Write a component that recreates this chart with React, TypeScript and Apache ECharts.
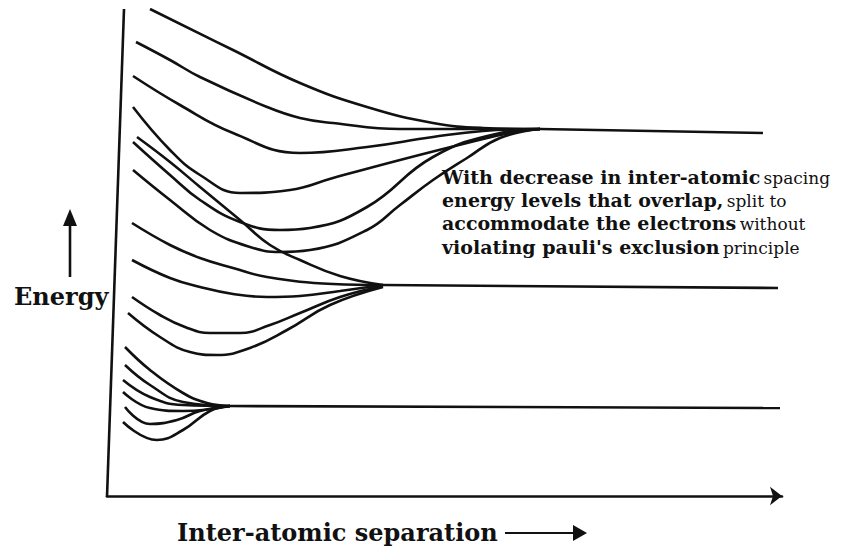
import React, { useEffect, useRef } from "react";
import * as echarts from "echarts";

// Each curve: [inter-atomic separation, energy]
const upperBand1 = [[50, 491], [133, 450], [200, 417], [267, 393], [333, 377], [383, 372], [440, 371]];
const upperBand2 = [[36, 458], [70, 440], [100, 423], [167, 393], [200, 382], [233, 377], [300, 371], [383, 371], [440, 371]];
const upperBand3 = [[33, 424], [80, 395], [133, 367], [200, 347], [267, 353], [333, 363], [383, 369], [440, 371]];
const upperBand4 = [[33, 393], [70, 350], [100, 325], [140, 307], [190, 310], [233, 322], [300, 340], [367, 357], [410, 367], [440, 371]];
const upperBand5 = [[33, 358], [70, 325], [100, 300], [140, 278], [180, 270], [210, 272], [267, 293], [333, 343], [400, 367], [440, 371]];
const upperBand6 = [[33, 330], [70, 300], [110, 270], [150, 253], [180, 248], [210, 250], [267, 270], [300, 295], [333, 320], [367, 342], [400, 362], [440, 371]];

const middleBand1 = [[37, 363], [70, 338], [100, 313], [140, 280], [170, 255], [200, 240], [240, 224], [283, 215]];
const middleBand2 = [[32, 277], [70, 255], [100, 242], [133, 232], [167, 223], [233, 216], [283, 215]];
const middleBand3 = [[32, 240], [70, 222], [100, 213], [133, 206], [167, 203], [200, 204], [240, 209], [283, 215]];
const middleBand4 = [[32, 203], [60, 185], [85, 173], [110, 167], [140, 167], [170, 175], [200, 187], [240, 203], [283, 214]];
const middleBand5 = [[28, 187], [60, 163], [90, 148], [117, 145], [150, 152], [187, 170], [230, 195], [283, 213]];

const lowerBand1 = [[25, 153], [50, 130], [83, 107], [107, 97], [130, 94]];
const lowerBand2 = [[25, 135], [50, 115], [83, 98], [130, 94]];
const lowerBand3 = [[23, 120], [50, 103], [83, 95], [130, 94]];
const lowerBand4 = [[23, 108], [50, 92], [83, 89], [130, 94]];
const lowerBand5 = [[25, 93], [50, 76], [77, 80], [100, 89], [130, 94]];
const lowerBand6 = [[23, 78], [57, 60], [83, 70], [110, 89], [130, 94]];

const upperLevel = [[440, 371], [663, 367]];
const middleLevel = [[283, 215], [678, 212]];
const lowerLevel = [[130, 94], [680, 92]];

const curves = [
  upperBand1, upperBand2, upperBand3, upperBand4, upperBand5, upperBand6,
  middleBand1, middleBand2, middleBand3, middleBand4, middleBand5,
  lowerBand1, lowerBand2, lowerBand3, lowerBand4, lowerBand5, lowerBand6,
];
const levels = [upperLevel, middleLevel, lowerLevel];

const xLabel = "Inter-atomic separation";
const yLabel = "Energy";
const noteLines = [
  ["With decrease in inter-atomic", "spacing"],
  ["energy levels that overlap,", "split to"],
  ["accommodate the electrons", "without"],
  ["violating pauli's exclusion", "principle"],
];

const INK = "#111111";
const SERIF = "DejaVu Serif";

export default function App() {
  const ref = useRef<HTMLDivElement>(null);
  useEffect(() => {
    if (!ref.current) return;
    const chart = echarts.init(ref.current, null, { renderer: "svg" });
    const series: any[] = [];
    curves.forEach((c, i) =>
      series.push({
        type: "line",
        name: "curve" + i,
        data: c,
        smooth: 0.45,
        showSymbol: false,
        silent: true,
        lineStyle: { color: INK, width: 2.6 },
      })
    );
    levels.forEach((c, i) =>
      series.push({
        type: "line",
        name: "level" + i,
        data: c,
        showSymbol: false,
        silent: true,
        lineStyle: { color: INK, width: 2.6 },
      })
    );
    const noteGraphics = noteLines.map((l, i) => ({
      type: "text",
      x: 442,
      y: 186 + i * 23.4,
      style: {
        text: "{b|" + l[0] + "} {s|" + l[1] + "}",
        verticalAlign: "bottom",
        rich: {
          b: { fontFamily: SERIF, fontWeight: "bold", fontSize: 19, fill: INK, verticalAlign: "bottom", lineHeight: 24 },
          s: { fontFamily: SERIF, fontWeight: "normal", fontSize: 17, fill: INK, verticalAlign: "bottom", lineHeight: 24 },
        },
      },
    }));
    chart.setOption({
      animation: false,
      backgroundColor: "#ffffff",
      grid: { left: 107, right: 81, top: 9, bottom: 55 },
      xAxis: {
        type: "value",
        min: 7,
        max: 682,
        axisLine: {
          show: true,
          lineStyle: { color: INK, width: 2.6 },
          symbol: ["none", "arrow"],
          symbolSize: [14, 12],
        },
        axisTick: { show: false },
        axisLabel: { show: false },
        splitLine: { show: false },
      },
      yAxis: {
        type: "value",
        min: 4,
        max: 491,
        show: false,
        splitLine: { show: false },
      },
      series,
      graphic: [
        { type: "line", shape: { x1: 124, y1: 9, x2: 107, y2: 497 }, style: { stroke: INK, lineWidth: 2.6 } },
        { type: "line", shape: { x1: 70, y1: 277, x2: 70, y2: 222 }, style: { stroke: INK, lineWidth: 2.6 } },
        { type: "polygon", shape: { points: [[70, 209], [63, 226], [77, 226]] }, style: { fill: INK } },
        {
          type: "text",
          x: 14,
          y: 296,
          style: { text: yLabel, fontFamily: SERIF, fontWeight: "bold", fontSize: 24, fill: INK, verticalAlign: "middle" },
        },
        {
          type: "text",
          x: 177,
          y: 532,
          style: { text: xLabel, fontFamily: SERIF, fontWeight: "bold", fontSize: 24, fill: INK, verticalAlign: "middle" },
        },
        { type: "line", shape: { x1: 505, y1: 533, x2: 576, y2: 533 }, style: { stroke: INK, lineWidth: 2 } },
        { type: "polygon", shape: { points: [[587, 533], [573, 525], [573, 541]] }, style: { fill: INK } },
        ...noteGraphics,
      ],
    });
    return () => chart.dispose();
  }, []);
  return <div ref={ref} style={{ position: "fixed", left: 0, top: 0, width: 863, height: 551 }} />;
}
